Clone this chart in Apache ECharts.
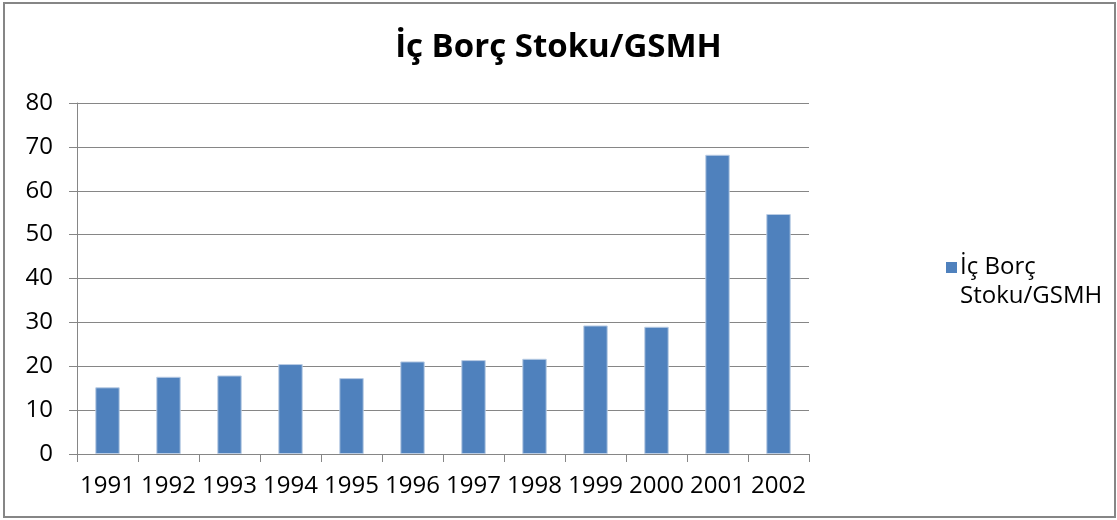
<!DOCTYPE html>
<html>
<head>
<meta charset="utf-8">
<script src="https://cdn.jsdelivr.net/npm/echarts@6/dist/echarts.min.js"></script>
<style>
    html, body { margin:0; padding:0; background:#fff; }
    #chart { width:1117px; height:520px; }
</style>
</head>
<body>
<div id="chart"></div>
<script>
let years = ['1991','1992','1993','1994','1995','1996','1997','1998','1999','2000','2001','2002'];
let borcValues = [15.2, 17.6, 17.9, 20.5, 17.3, 21.1, 21.4, 21.7, 29.3, 29.0, 68.2, 54.7];
let seriesName = 'İç Borç Stoku/GSMH';
let titleText = 'İç Borç Stoku/GSMH';

let myChart = echarts.init(document.getElementById('chart'));
let font = '"Open Sans", "Noto Sans", sans-serif';

// square sits at the top of a taller (invisible) box so it lines up with the first text line
let legendIcon = 'path://M0,0L11,0L11,11L0,11Z M0,40L0.01,40';

let option = {
    animation:false,
    backgroundColor:'#fff',
    title:{
        text:titleText,
        left:'center',
        top:26,
        textStyle:{
            fontFamily:font,
            fontSize:33,
            fontWeight:'bold',
            color:'#000'
        }
    },
    grid:{
        left:77,
        right:308,
        top:103,
        bottom:66
    },
    legend:{
        left:941,
        top:248,
        orient:'vertical',
        icon:legendIcon,
        itemWidth:11,
        itemHeight:40,
        selectedMode:false,
        itemStyle:{ borderWidth:0 },
        formatter:(name)=>name.replace(' Stoku', '\nStoku'),
        textStyle:{
            fontFamily:font,
            fontSize:24,
            lineHeight:29,
            color:'#000',
            padding:[0,0,0,-2]
        },
        data:[seriesName]
    },
    xAxis:{
        type:'category',
        data:years,
        axisLine:{ lineStyle:{ color:'#868686', width:1 } },
        axisTick:{ show:true, length:8, interval:0, lineStyle:{ color:'#868686' } },
        axisLabel:{
            color:'#000',
            fontFamily:font,
            fontSize:24,
            interval:0,
            hideOverlap:false,
            margin:20
        }
    },
    yAxis:{
        type:'value',
        min:0,
        max:80,
        interval:10,
        axisLine:{ show:true, lineStyle:{ color:'#868686' } },
        axisTick:{ show:true, length:8, lineStyle:{ color:'#868686' } },
        axisLabel:{
            color:'#000',
            fontFamily:font,
            fontSize:24,
            margin:24
        },
        splitLine:{
            show:true,
            lineStyle:{ color:'#868686', width:1 }
        }
    },
    graphic:[
        {
            type:'rect',
            shape:{ x:4, y:3, width:1111, height:514 },
            style:{ fill:'none', stroke:'#868686', lineWidth:2 },
            silent:true
        }
    ],
    series:[
        {
            name:seriesName,
            type:'bar',
            data:borcValues,
            barWidth:'40%',
            itemStyle:{
                color:'#4f81bd',
                borderColor:'#b9cce4',
                borderWidth:1
            }
        }
    ]
};
myChart.setOption(option);
</script>
</body>
</html>
